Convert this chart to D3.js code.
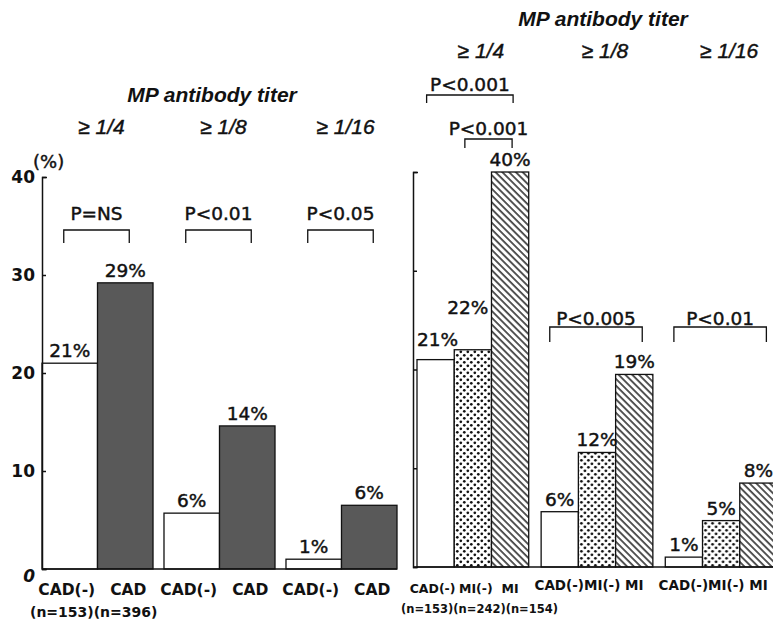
<!DOCTYPE html>
<html>
<head>
<meta charset="utf-8">
<script src="https://cdn.jsdelivr.net/npm/d3@7"></script>
<style>
  body { margin: 0; background: #fff; }
  svg text { fill: #111; }
  svg text.med { stroke: #111; stroke-width: 0.45; }
</style>
</head>
<body>
<div id="chart"></div>
<script>
// titer thresholds, shared by both panels
var titers = ["\u2265 1/4", "\u2265 1/8", "\u2265 1/16"];
var yTicks = [0, 10, 20, 30, 40];

// left panel: CAD(-) vs CAD
var leftGroups = ["CAD(-)", "CAD"];
var leftValues = [[21, 29.2], [5.7, 14.6], [1, 6.5]];
var leftLabels = [["21%", "29%"], ["6%", "14%"], ["1%", "6%"]];
var leftP = ["P=NS", "P<0.01", "P<0.05"];
var leftN = "(n=153)(n=396)";

// right panel: CAD(-) vs MI(-) vs MI
var rightGroups = ["CAD(-)", "MI(-)", "MI"];
var rightValues = [[21, 22, 40], [5.6, 11.6, 19.5], [1, 4.7, 8.5]];
var rightLabels = [["21%", "22%", "40%"], ["6%", "12%", "19%"], ["1%", "5%", "8%"]];
var rightP = ["P<0.005", "P<0.01"];
var rightP1 = ["P<0.001", "P<0.001"]; // first group: outer, inner bracket
var rightN = "(n=153)(n=242)(n=154)";

var W = 773, H = 625;
var FONT = "'DejaVu Sans', sans-serif";
var TITLE_FONT = "'Liberation Sans', Arial, sans-serif";

var svg = d3.select("#chart").append("svg")
  .attr("width", W)
  .attr("height", H)
  .attr("font-family", FONT);

// fills
var defs = svg.append("defs");
var dots = defs.append("pattern")
  .attr("id", "dots")
  .attr("width", 7).attr("height", 7)
  .attr("patternUnits", "userSpaceOnUse");
dots.append("rect").attr("width", 7).attr("height", 7).attr("fill", "#fff");
dots.append("circle").attr("cx", 1.8).attr("cy", 1.8).attr("r", 1.35).attr("fill", "#111");
dots.append("circle").attr("cx", 5.3).attr("cy", 5.3).attr("r", 1.35).attr("fill", "#111");

var hatch = defs.append("pattern")
  .attr("id", "hatch")
  .attr("width", 4.8).attr("height", 4.8)
  .attr("patternUnits", "userSpaceOnUse")
  .attr("patternTransform", "rotate(-45)");
hatch.append("rect").attr("width", 4.8).attr("height", 4.8).attr("fill", "#fff");
hatch.append("line").attr("x1", 1).attr("y1", 0).attr("x2", 1).attr("y2", 4.8)
  .attr("stroke", "#111").attr("stroke-width", 1.4);

var leftFills = ["#fff", "#595959"];
var rightFills = ["#fff", "url(#dots)", "url(#hatch)"];

function bracket(g, x1, x2, y, leg) {
  g.append("path")
    .attr("d", "M" + x1 + "," + (y + leg) + "V" + y + "H" + x2 + "V" + (y + leg))
    .attr("fill", "none")
    .attr("stroke", "#111")
    .attr("stroke-width", 1.3);
}

function panel(opt) {
  var g = svg.append("g");

  var x0 = d3.scaleBand()
    .domain(d3.range(opt.values.length))
    .range(opt.xRange)
    .paddingInner(opt.padding)
    .paddingOuter(0);
  var x1 = d3.scaleBand()
    .domain(d3.range(opt.groups.length))
    .range([0, x0.bandwidth()]);
  var y = d3.scaleLinear().domain([0, 40]).range(opt.yRange);

  // bars
  var groups = g.selectAll("g.grp").data(opt.values).enter().append("g")
    .attr("class", "grp")
    .attr("transform", function (d, i) { return "translate(" + x0(i) + ",0)"; });

  groups.selectAll("rect").data(function (d) { return d; }).enter().append("rect")
    .attr("x", function (d, j) { return x1(j); })
    .attr("y", function (d) { return y(d); })
    .attr("width", x1.bandwidth())
    .attr("height", function (d) { return y(0) - y(d); })
    .attr("fill", function (d, j) { return opt.fills[j]; })
    .attr("stroke", "#111")
    .attr("stroke-width", 1.3);

  // value labels
  groups.each(function (vals, i) {
    d3.select(this).selectAll("text.val").data(vals).enter().append("text")
      .attr("class", "val med")
      .attr("x", function (d, j) { return x1(j) + x1.bandwidth() / 2 + opt.labelShift(i, j).dx; })
      .attr("y", function (d, j) { return y(d) + opt.labelShift(i, j).dy; })
      .attr("text-anchor", "middle")
      .attr("font-size", 18.5)
      .text(function (d, j) { return opt.labels[i][j]; });
  });

  // y axis
  var axis = d3.axisLeft(y)
    .tickValues(yTicks)
    .tickSizeInner(-4)
    .tickSizeOuter(-5)
    .tickPadding(opt.showTicks ? 7 : 0)
    .tickFormat(opt.showTicks ? d3.format("d") : "");
  var ax = g.append("g")
    .attr("transform", "translate(" + opt.axisX + ",0)")
    .call(axis);
  ax.selectAll("path, line").attr("stroke", "#111").attr("stroke-width", 1.5);
  ax.selectAll("text")
    .attr("font-family", FONT)
    .attr("font-size", 17)
    .attr("font-weight", "bold")
    .attr("fill", "#111");
  ax.selectAll(".tick").filter(function (d) { return d === 0; }).select("text")
    .attr("font-style", "italic").attr("dy", "0.75em");

  // baseline
  g.append("line")
    .attr("x1", opt.axisX).attr("x2", opt.baseEnd)
    .attr("y1", y(0)).attr("y2", y(0))
    .attr("stroke", "#111").attr("stroke-width", 1.5);

  // titles
  g.append("text")
    .attr("x", opt.titleX).attr("y", opt.titleY)
    .attr("text-anchor", "middle")
    .attr("font-family", TITLE_FONT)
    .attr("font-style", "italic")
    .attr("font-weight", "bold")
    .attr("font-size", 21)
    .text("MP antibody titer");
  g.selectAll("text.titer").data(titers).enter().append("text")
    .attr("class", "titer med")
    .attr("x", function (d, i) { return x0(i) + x0.bandwidth() / 2 + opt.titerShift; })
    .attr("y", opt.titleY + 32)
    .attr("text-anchor", "middle")
    .attr("font-family", TITLE_FONT)
    .attr("font-style", "italic")
    .attr("font-size", 21)
    .text(function (d) { return d; });

  return { g: g, x0: x0, x1: x1, y: y };
}

// ---------- left panel ----------
var L = panel({
  values: leftValues, labels: leftLabels, groups: leftGroups, fills: leftFills,
  xRange: [42, 397], padding: 0.09, yRange: [569, 177],
  axisX: 42, baseEnd: 397, showTicks: true,
  titleX: 212, titleY: 102, titerShift: 4,
  labelShift: function (i, j) { return { dx: 0, dy: -6 }; }
});

svg.append("text")
  .attr("class", "med")
  .attr("x", 33).attr("y", 168)
  .attr("font-size", 18)
  .text("(%)");

leftP.forEach(function (p, i) {
  var gx = L.x0(i);
  var a = gx + L.x1.bandwidth() / 2 - 6;
  var b = gx + L.x1(1) + L.x1.bandwidth() / 2 + 4;
  bracket(L.g, a, b, 230, 13);
  L.g.append("text")
    .attr("class", "med")
    .attr("x", (a + b) / 2).attr("y", 220)
    .attr("text-anchor", "middle")
    .attr("font-size", 18.5)
    .text(p);
});

leftValues.forEach(function (vals, i) {
  leftGroups.forEach(function (c, j) {
    L.g.append("text")
      .attr("x", L.x0(i) + L.x1(j) + L.x1.bandwidth() / 2 + (j === 0 ? -3 : 3))
      .attr("y", 595)
      .attr("text-anchor", "middle")
      .attr("font-size", 15.5).attr("font-weight", "bold")
      .text(c);
  });
});
L.g.append("text")
  .attr("x", 30).attr("y", 617)
  .attr("font-size", 14).attr("font-weight", "bold")
  .text(leftN);

// ---------- right panel ----------
var R = panel({
  values: rightValues, labels: rightLabels, groups: rightGroups, fills: rightFills,
  xRange: [417, 777], padding: 0.1, yRange: [567, 172],
  axisX: 413, baseEnd: 773, showTicks: false,
  titleX: 603, titleY: 26, titerShift: 8,
  labelShift: function (i, j) {
    if (i === 0 && j === 0) return { dx: 2, dy: -14 };
    if (i === 0 && j === 1) return { dx: -5, dy: -36 };
    return { dx: 0, dy: -6 };
  }
});

function rcx(i, j) { return R.x0(i) + R.x1(j) + R.x1.bandwidth() / 2; }

// group 1 brackets
var ob = [rcx(0, 0) - 9, rcx(0, 2) + 3];
bracket(R.g, ob[0], ob[1], 95, 8);
R.g.append("text").attr("class", "med").attr("x", (ob[0] + ob[1]) / 2).attr("y", 91)
  .attr("text-anchor", "middle").attr("font-size", 18.5).text(rightP1[0]);
var ib = [rcx(0, 1) - 8, rcx(0, 2) + 2];
bracket(R.g, ib[0], ib[1], 139, 9);
R.g.append("text").attr("class", "med").attr("x", (ib[0] + ib[1]) / 2).attr("y", 135)
  .attr("text-anchor", "middle").attr("font-size", 18.5).text(rightP1[1]);

rightP.forEach(function (p, i) {
  var a = rcx(i + 1, 0) - 10, b = rcx(i + 1, 2) + 8;
  bracket(R.g, a, b, 327, 15);
  R.g.append("text").attr("class", "med").attr("x", (a + b) / 2).attr("y", 325)
    .attr("text-anchor", "middle").attr("font-size", 18.5).text(p);
});

// x labels, right
rightGroups.forEach(function (c, j) {
  R.g.append("text")
    .attr("x", rcx(0, j) + (j === 0 ? -3 : j === 1 ? 3 : 0)).attr("y", 593)
    .attr("text-anchor", "middle")
    .attr("font-size", 12.5).attr("font-weight", "bold")
    .text(c);
});
R.g.append("text")
  .attr("x", 401).attr("y", 613)
  .attr("font-size", 11.5).attr("font-weight", "bold")
  .text(rightN);
[1, 2].forEach(function (i) {
  R.g.append("text")
    .attr("x", R.x0(i) + R.x0.bandwidth() / 2 - 8).attr("y", 590)
    .attr("text-anchor", "middle")
    .attr("font-size", 13.5).attr("font-weight", "bold")
    .text(rightGroups[0] + rightGroups[1] + " " + rightGroups[2]);
});
</script>
</body>
</html>
